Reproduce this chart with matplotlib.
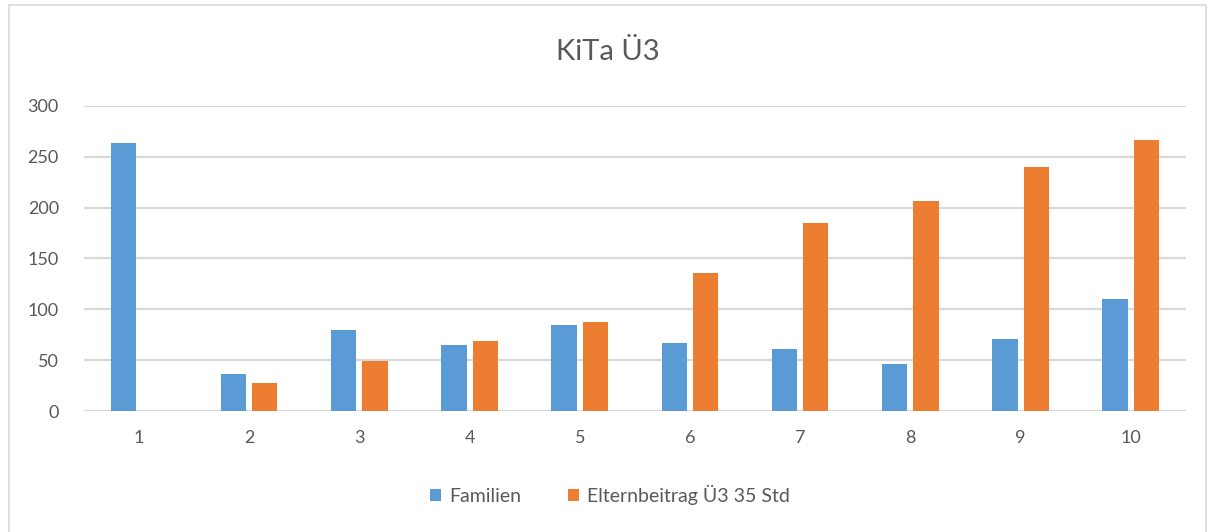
import matplotlib.pyplot as plt
import matplotlib.patches as mpatches
import numpy as np

plt.rcParams['font.family'] = ['Lato', 'DejaVu Sans']

# Daten
kategorien = ['1', '2', '3', '4', '5', '6', '7', '8', '9', '10']
familien = [264, 36, 80, 65, 85, 67, 61, 46, 71, 110]
elternbeitrag = [0, 28, 49, 69, 88, 136, 185, 207, 240, 267]
y_ticks = [0, 50, 100, 150, 200, 250, 300]

blau = '#5B9BD5'
orange = '#ED7D31'
grau_text = '#595959'
grau_linie = '#D9D9D9'

fig = plt.figure(figsize=(12.15, 5.32), dpi=100)
ax = fig.add_axes([0.069, 0.2274, 0.907, 0.5734])

x = np.arange(len(kategorien))
breite = 0.23
ax.bar(x - 0.142, familien, breite, color=blau, label='Familien', zorder=3)
ax.bar(x + 0.142, elternbeitrag, breite, color=orange,
       label='Elternbeitrag Ü3 35 Std', zorder=3)

ax.set_xlim(-0.5, len(kategorien) - 0.5)
ax.set_ylim(0, 300)
ax.set_yticks(y_ticks)
ax.set_xticks(x)
ax.set_xticklabels(kategorien)
ax.tick_params(axis='both', length=0, labelsize=13, labelcolor=grau_text)
ax.tick_params(axis='y', pad=18)
ax.tick_params(axis='x', pad=14)

ax.grid(axis='y', color=grau_linie, linewidth=1.6, zorder=0)
for s in ax.spines.values():
    s.set_visible(False)

fig.text(0.5, 0.902, 'KiTa Ü3', ha='center', va='center',
         fontsize=21, color=grau_text)

ax.legend(loc='center', bbox_to_anchor=(0.502, 0.07), bbox_transform=fig.transFigure,
          ncol=2, frameon=False, fontsize=14, handlelength=0.6, handleheight=0.6,
          columnspacing=2.4, handletextpad=0.4, labelcolor=grau_text)

# Rahmen
fig.patches.append(mpatches.Rectangle((0.007, -0.01), 0.986, 1.0, transform=fig.transFigure,
                                      fill=False, edgecolor=grau_linie, linewidth=1.2))

fig.savefig('out.png', dpi=100)
